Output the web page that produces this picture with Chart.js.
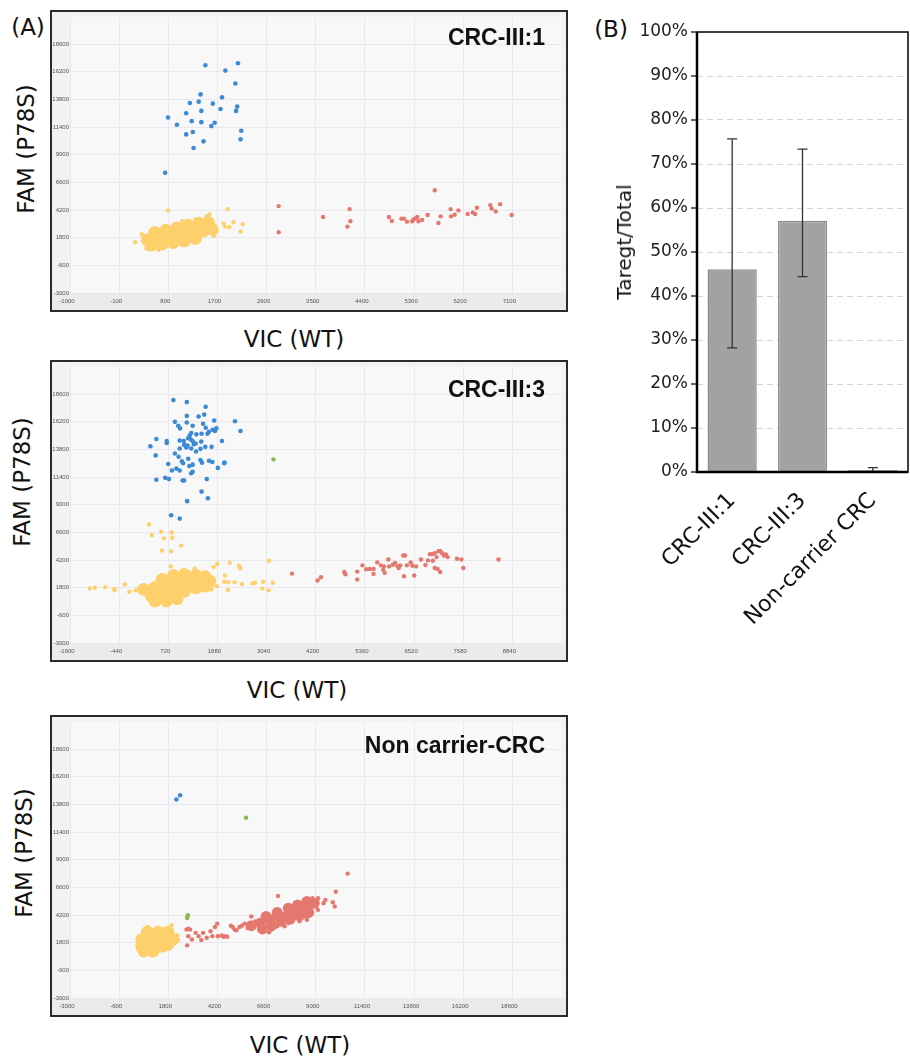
<!DOCTYPE html>
<html lang="en">
<head>
<meta charset="UTF-8">
<title>ddPCR P78S</title>
<script src="https://cdn.jsdelivr.net/npm/chart.js"></script>
<style>
  body { margin: 0; background: #fff; color: #111; font-family: "DejaVu Sans", sans-serif; }
  #page { position: relative; width: 910px; height: 1058px; overflow: hidden; }
  canvas { position: absolute; }
  .lbl { position: absolute; white-space: nowrap; transform: translate(-50%, -50%); font-size: 23px; line-height: 1; }
  .rot { transform: translate(-50%, -50%) rotate(-90deg); }
  .ttl { position: absolute; right: 365px; transform: translateY(-50%); white-space: nowrap;
         font-family: "Liberation Sans", Arial, sans-serif; font-weight: bold; font-size: 23px; line-height: 1; }
</style>
</head>
<body>
<div id="page">
  <div class="lbl" style="left:28px;top:27px;font-size:23px">(A)</div>
  <div class="lbl" style="left:611px;top:29px;font-size:23px">(B)</div>

  <canvas id="plot1" width="518" height="302" style="left:50px;top:10px"></canvas>
  <canvas id="plot2" width="518" height="302" style="left:50px;top:360px"></canvas>
  <canvas id="plot3" width="518" height="302" style="left:50px;top:715px"></canvas>
  <canvas id="bars" width="330" height="640" style="left:580px;top:0px"></canvas>

  <div class="ttl" style="top:37px">CRC-III:1</div>
  <div class="ttl" style="top:389px">CRC-III:3</div>
  <div class="ttl" style="top:745px">Non carrier-CRC</div>

  <div class="lbl rot" style="left:26px;top:149px">FAM (P78S)</div>
  <div class="lbl rot" style="left:22px;top:482px">FAM (P78S)</div>
  <div class="lbl rot" style="left:24px;top:853px">FAM (P78S)</div>
  <div class="lbl" style="left:294px;top:339px">VIC (WT)</div>
  <div class="lbl" style="left:297px;top:690px">VIC (WT)</div>
  <div class="lbl" style="left:300px;top:1045px">VIC (WT)</div>
  <div class="lbl rot" style="left:624px;top:242px;font-size:20px">Taregt/Total</div>
</div>

<script>
// ---- axes ----
const famTicks = [-3000, -600, 1800, 4200, 6600, 9000, 11400, 13800, 16200, 18600];
const vicTicks1 = [-1000, -100, 800, 1700, 2600, 3500, 4400, 5300, 6200, 7100];
const vicTicks2 = [-1600, -440, 720, 1880, 3040, 4200, 5360, 6520, 7680, 8840];
const vicTicks3 = [-3000, -600, 1800, 4200, 6600, 9000, 11400, 13800, 16200, 18600];

// ---- CRC-III:1 droplets [VIC, FAM] ----
const crc1Mut = [[1479,16764],[2075,16936],[1845,16305],[2028,15186],[1391,14239],[1784,13981],[1195,13493],
  [1357,13608],[1615,13436],[2062,13178],[1127,12604],[1405,12805],[1757,12977],[2041,12805],[795,12231],
  [1229,11915],[1405,11829],[1649,11772],[958,11600],[1588,11485],[2136,11083],[1249,10969],[1127,10768],
  [2123,10337],[1445,10165],[1263,9592],[741,7440]];
const crc1Wt = [[2820,4542],[2820,2276],[3633,3595],[4121,4284],[4134,3222],[4080,2763],[4839,3595],[4893,3251],
  [5069,3452],[5116,3452],[5171,3194],[5265,3222],[5292,3394],[5326,3481],[5360,3595],[5381,3222],[5448,3337],
  [5550,3767],[5679,5919],[5746,3079],[5787,3653],[5970,4284],[5977,3653],[6044,3796],[6112,4169],[6281,3854],
  [6376,3997],[6417,3854],[6451,4399],[6695,4628],[6722,4341],[6796,4083],[6877,4714],[7087,3767]];
const crc1NegCore = [[551,2247],[755,2448],[958,2649],[1161,2878],[1364,3050],[1533,3108],
  [416,1616],[619,1673],[822,1817],[1026,2017],[1229,2190],[1432,2362],[1601,2534],
  [484,1157],[687,1243],[890,1386],[1093,1530],[1296,1730]];
const crc1Neg = [[795,4169],[192,1415],[1554,3825],[1886,4284],[1994,3136],[2163,2964],[2123,2333],[1811,3022],
  [1920,2706],[1682,2362],[1506,3653],[1838,2763],[314,2103],[402,870],[619,755],[1059,3251],[1296,3394],[1635,1960]];

// ---- CRC-III:3 droplets ----
const crc3Mut = [[841,18082],[1156,17911],[1602,17511],[1156,16711],[1435,16654],[1567,16825],[2293,16254],
  [876,16196],[1156,16139],[1803,16311],[2424,15396],[954,15854],[998,15625],[1295,15854],[1540,16025],
  [1602,15682],[1680,15339],[1768,15511],[1820,15396],[1855,15625],[1645,15168],[1505,15168],[1383,15111],
  [1260,15225],[1225,14996],[1190,14768],[1252,14654],[1295,14539],[1085,14539],[989,14568],[438,14711],
  [683,14539],[683,14368],[298,14082],[1094,14197],[1173,14139],[1322,14254],[1365,14311],[1497,14482],
  [1593,14025],[1741,14025],[1986,14539],[989,13882],[1147,13968],[1260,13882],[1479,13854],[1374,13625],
  [876,13454],[963,13168],[1042,12768],[1068,12597],[1190,12997],[1217,12368],[1295,12482],[421,13282],
  [718,12539],[1479,12882],[1514,12654],[1680,12825],[1759,12711],[2039,12597],[1890,12197],[2048,12654],
  [806,11968],[911,12139],[989,11968],[1295,11854],[1260,11740],[648,11340],[736,11225],[438,11168],
  [1059,11111],[1094,11111],[1628,11225],[1505,10140],[1654,9568],[1164,9311],[788,8083],[989,7797]];
const crc3Both = [[3202,12939]];
const crc3Wt = [[3640,3026],[4243,2426],[4322,2711],[4873,3169],[4899,2969],[5179,2511],[5179,3197],[5302,3740],
  [5389,3397],[5476,3426],[5564,3426],[5651,3997],[5739,3740],[5791,3368],[5826,3083],[5914,4254],[5931,3654],
  [6019,3797],[6071,3940],[6132,3654],[6194,3740],[6264,4597],[6307,4597],[6281,2797],[6351,3740],[6439,3997],
  [6482,3711],[6526,2854],[6570,3654],[6684,4254],[6789,3768],[6850,4168],[6893,4711],[6946,4711],[7007,4797],
  [7051,4454],[7095,4968],[7138,4997],[7182,4797],[7226,4597],[7270,4683],[7313,4454],[7007,3511],[7077,3426],
  [7138,3169],[7532,4311],[7637,4254],[7681,3511],[8512,4254],[5564,2997],[5809,3654],[6159,3511],[6963,4140]];
const crc3NegCore = [[578,2511],[841,2854],[1103,2940],[1365,2854],[1584,2740],
  [141,1654],[403,1797],[666,1940],[928,2083],[1190,2226],[1453,2283],[1698,2369],
  [316,1083],[578,1140],[841,1311],[1103,1511],[1365,1797],[1584,1940],
  [403,654],[666,654],[928,854]];
const crc3Neg = [[263,7283],[552,6654],[797,6597],[333,6368],[622,6083],[814,6140],[1024,5454],[569,5026],[788,4968],
  [-1136,1740],[-1014,1797],[-769,1854],[-550,1683],[-550,1569],[-305,2083],[-200,1454],[-52,1569],
  [779,3654],[1339,3454],[1785,3597],[1873,3883],[2170,3968],[2389,3711],[2415,3483],[2056,2854],[2039,2311],
  [2135,2283],[2284,2283],[2459,2111],[2704,2169],[2765,2226],[2957,2311],[3185,2226],[3097,4140],[2940,1740],
  [3089,1569],[2126,1597],[1864,1940],[1741,1654]];

// ---- Non carrier-CRC droplets ----
const ncMut = [[2195,14225],[2376,14596]];
const ncBoth = [[5598,12653],[2738,4082],[2720,3939],[2756,4196]];
const ncWtCore = [[5851,3282],[6304,3511],[6756,3796],[7209,4082],[7661,4311],[8114,4596],[8566,4882],[8928,5225],
  [6394,2997],[6847,3282],[7299,3654],[7752,3854],[8204,4139],[8657,4425],
  [6575,4082],[7118,4425],[7661,4796],[8114,5082],[8566,5368]];
const ncWt = [[2684,2939],[2774,3025],[2865,2939],[2720,1568],[2774,2368],[2955,2082],[3136,2654],[3281,2368],
  [3408,2025],[3498,2654],[3679,2225],[3860,2797],[3951,2368],[4077,3168],[4186,3454],[4222,2368],[4403,2425],
  [4494,2311],[4584,2368],[4675,2311],[4856,3282],[4946,3168],[5037,2939],[5127,2882],[5272,3168],[5399,3282],
  [5525,3454],[5670,3082],[5851,4082],[6032,3654],[6249,3168],[6720,2711],[7154,5854],[9978,6225],[10557,7796],
  [9833,5311],[9924,4939],[9109,5654],[8838,5654],[9381,5225],[8566,3796],[8204,3654],[8476,4082],[7480,3225],
  [7661,3511],[7118,3225],[6847,2939],[9109,4653],[9471,5511]];
const ncNegCore = [[783,2711],[1326,2711],[1779,2711],[512,2082],[964,2082],[1507,2082],[2014,2082],
  [512,1511],[964,1511],[1507,1511],[1779,1654],[602,1082],[1055,1082]];
const ncNeg = [[1960,3311],[2231,2454],[2141,2225],[2285,2025],[1869,1797],[331,1939],[331,1225],[783,3168],
  [1326,3082],[1598,2368]];

// ---- panel B ----
const groups = ['CRC-III:1', 'CRC-III:3', 'Non-carrier CRC'];
const ratio = [46.1, 57.1, 0.45];
const errLow = [28.2, 44.4, 0];
const errHigh = [75.7, 73.4, 1.0];

const BLUE = '#3b8ad6', YELLOW = '#fdd06b', RED = '#e5786e', GREEN = '#86b84e';

function pts(arr) { return arr.map(p => ({ x: p[0], y: p[1] })); }
function dots(arr, color, r) {
  return { data: pts(arr), backgroundColor: color, borderWidth: 0, pointRadius: r, pointHoverRadius: r };
}

const scatterBack = {
  id: 'scatterBack',
  beforeDraw(chart) {
    const { ctx, chartArea: a, width, height } = chart;
    ctx.save();
    ctx.fillStyle = '#f2f2f2';
    ctx.fillRect(0, 0, width, height);
    ctx.fillStyle = '#ebebeb';
    ctx.fillRect(0, a.bottom, width, height - a.bottom);
    ctx.fillStyle = '#f8f8f8';
    ctx.fillRect(a.left, a.top, a.right - a.left, a.bottom - a.top);
    ctx.restore();
  },
  afterDraw(chart) {
    const { ctx, width, height } = chart;
    ctx.save();
    ctx.strokeStyle = '#2b2b2b';
    ctx.lineWidth = 2;
    ctx.strokeRect(1, 1, width - 2, height - 2);
    ctx.restore();
  }
};

function scatterChart(id, xMax, xTicks, sets) {
  return new Chart(document.getElementById(id), {
    type: 'scatter',
    data: { datasets: sets },
    options: {
      responsive: false, animation: false, events: [],
      layout: { padding: { top: 2, right: 2, left: 0, bottom: 0 } },
      plugins: { legend: { display: false }, tooltip: { enabled: false } },
      scales: {
        x: {
          type: 'linear', min: xTicks[0], max: xMax,
          afterBuildTicks: s => { s.ticks = xTicks.map(v => ({ value: v })); },
          afterFit: s => { s.height = 19; },
          grid: { color: '#e8e8ee', drawTicks: false },
          border: { display: false },
          ticks: { font: { size: 6, family: 'Liberation Sans' }, color: '#555', padding: 5,
                   labelOffset: -3, maxRotation: 0, autoSkip: false, callback: v => String(v) }
        },
        y: {
          type: 'linear', min: -3000, max: 21000,
          afterBuildTicks: s => { s.ticks = famTicks.map(v => ({ value: v })); },
          afterFit: s => { s.width = 20; },
          grid: { color: '#e8e8ee', drawTicks: false },
          border: { display: false },
          ticks: { font: { size: 6, family: 'Liberation Sans' }, color: '#555', padding: 1,
                   autoSkip: false, callback: v => String(v) }
        }
      }
    },
    plugins: [scatterBack]
  });
}

scatterChart('plot1', 8000, vicTicks1, [
  dots(crc1NegCore, YELLOW, 6.5), dots(crc1Neg, YELLOW, 2.2),
  dots(crc1Wt, RED, 2.2), dots(crc1Mut, BLUE, 2.3)
]);
scatterChart('plot2', 10000, vicTicks2, [
  dots(crc3NegCore, YELLOW, 6.5), dots(crc3Neg, YELLOW, 2.2),
  dots(crc3Wt, RED, 2.2), dots(crc3Mut, BLUE, 2.3), dots(crc3Both, GREEN, 2.2)
]);
scatterChart('plot3', 21000, vicTicks3, [
  dots(ncNegCore, YELLOW, 6.5), dots(ncNeg, YELLOW, 2.2),
  dots(ncWtCore, RED, 5.5), dots(ncWt, RED, 2.2), dots(ncMut, BLUE, 2.3), dots(ncBoth, GREEN, 2.2)
]);

const barFrame = {
  id: 'barFrame',
  afterDatasetsDraw(chart) {
    const { ctx, chartArea: a, scales: { y } } = chart;
    const meta = chart.getDatasetMeta(0);
    ctx.save();
    // error bars
    ctx.strokeStyle = '#333';
    ctx.lineWidth = 1.3;
    meta.data.forEach((bar, i) => {
      const yl = y.getPixelForValue(errLow[i]);
      const yh = y.getPixelForValue(errHigh[i]);
      ctx.beginPath();
      ctx.moveTo(bar.x, yl); ctx.lineTo(bar.x, yh);
      ctx.moveTo(bar.x - 5, yl); ctx.lineTo(bar.x + 5, yl);
      ctx.moveTo(bar.x - 5, yh); ctx.lineTo(bar.x + 5, yh);
      ctx.stroke();
    });
    // box
    ctx.strokeStyle = '#000';
    ctx.lineWidth = 1.5;
    ctx.strokeRect(a.left, a.top, a.right - a.left, a.bottom - a.top);
    ctx.lineWidth = 2.5;
    ctx.beginPath();
    ctx.moveTo(a.left, a.top); ctx.lineTo(a.left, a.bottom); ctx.lineTo(a.right, a.bottom);
    ctx.stroke();
    // tick marks
    ctx.lineWidth = 1.2;
    y.ticks.forEach(t => {
      const py = y.getPixelForValue(t.value);
      ctx.beginPath(); ctx.moveTo(a.left - 6, py); ctx.lineTo(a.left, py); ctx.stroke();
    });
    ctx.restore();
  }
};

new Chart(document.getElementById('bars'), {
  type: 'bar',
  data: {
    labels: groups,
    datasets: [{
      data: ratio, backgroundColor: '#a2a2a2', borderColor: '#8c8c8c', borderWidth: 1.5,
      barPercentage: 0.7, categoryPercentage: 1
    }]
  },
  options: {
    responsive: false, animation: false, events: [],
    layout: { padding: { top: 32, right: 2, left: 0, bottom: 0 } },
    plugins: { legend: { display: false }, tooltip: { enabled: false } },
    scales: {
      x: {
        afterFit: s => { s.height = 168; },
        grid: { display: false }, border: { display: false },
        ticks: { font: { family: 'DejaVu Sans', size: 22 }, color: '#111',
                 minRotation: 45, maxRotation: 45, padding: 8, autoSkip: false }
      },
      y: {
        min: 0, max: 100,
        afterFit: s => { s.width = 117; },
        grid: { drawTicks: false, lineWidth: 1,
                color: c => (c.tick.value > 0 && c.tick.value < 100) ? '#d4d4d4' : 'rgba(0,0,0,0)' },
        border: { display: false, dash: [6, 4] },
        ticks: { stepSize: 10, callback: v => v + '%', font: { family: 'DejaVu Sans', size: 17 },
                 color: '#222', padding: 9 }
      }
    }
  },
  plugins: [barFrame]
});
</script>
</body>
</html>
